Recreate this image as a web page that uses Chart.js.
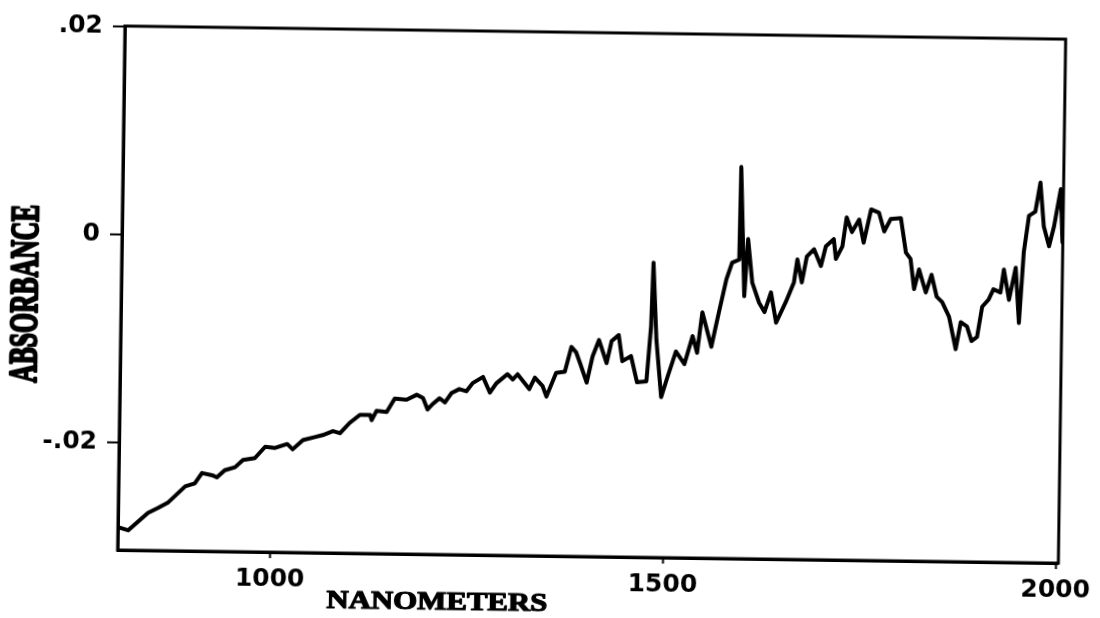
<!DOCTYPE html>
<html>
<head>
<meta charset="utf-8">
<script src="https://cdn.jsdelivr.net/npm/chart.js@4.4.1/dist/chart.umd.min.js"></script>
<style>
  html, body { margin: 0; padding: 0; background: #fff; overflow: hidden; }
  /* the scanned plot is tilted a little clockwise */
  #wrap { width: 1100px; height: 618px; transform: rotate(0.8deg); transform-origin: 550px 309px; }
</style>
</head>
<body>
<div id="wrap"><canvas id="spectrum"></canvas></div>
<script>
// wavelength (nm) and absorbance
const nm = [
  806, 819, 844, 857, 869, 891, 903, 912, 925, 931, 941, 954, 964, 979, 992,
  1004, 1020, 1027, 1040, 1055, 1065, 1078, 1087, 1099, 1112, 1125, 1127, 1133, 1146, 1156,
  1171, 1184, 1192, 1198, 1204, 1213, 1220, 1228, 1238, 1247, 1255, 1268, 1277, 1285, 1299,
  1306, 1312, 1327, 1334, 1344, 1349, 1361, 1372, 1380, 1386, 1391, 1400, 1407, 1415, 1425,
  1431, 1440, 1445, 1456, 1464, 1476, 1481, 1483, 1488, 1495, 1503, 1513, 1524, 1534, 1540,
  1546, 1558, 1567, 1576, 1583, 1592, 1593, 1599, 1603, 1609, 1618, 1625, 1633, 1640, 1652,
  1662, 1666, 1672, 1678, 1687, 1696, 1702, 1712, 1715, 1723, 1728, 1735, 1744, 1750, 1759,
  1769, 1776, 1784, 1797, 1804, 1810, 1815, 1821, 1830, 1837, 1844, 1851, 1860, 1869, 1875,
  1883, 1889, 1896, 1902, 1910, 1916, 1925, 1929, 1936, 1944, 1949, 1954, 1960, 1968, 1974,
  1979, 1986, 1992, 2000, 2003
];
const absorbance = [
  -0.0281, -0.0284, -0.0267, -0.0262, -0.0257, -0.0241, -0.0238, -0.0228, -0.0230, -0.0232, -0.0225, -0.0222, -0.0215, -0.0213, -0.0202,
  -0.0203, -0.0199, -0.0204, -0.0195, -0.0192, -0.0190, -0.0186, -0.0188, -0.0178, -0.0170, -0.0170, -0.0175, -0.0166, -0.0167, -0.0154,
  -0.0155, -0.0150, -0.0153, -0.0164, -0.0159, -0.0153, -0.0157, -0.0148, -0.0144, -0.0146, -0.0138, -0.0132, -0.0147, -0.0138, -0.0129,
  -0.0134, -0.0129, -0.0143, -0.0132, -0.0140, -0.0150, -0.0127, -0.0126, -0.0102, -0.0107, -0.0117, -0.0136, -0.0111, -0.0095, -0.0117,
  -0.0096, -0.0090, -0.0115, -0.0110, -0.0135, -0.0134, -0.0081, -0.0020, -0.0094, -0.0149, -0.0129, -0.0105, -0.0117, -0.0090, -0.0106,
  -0.0067, -0.0100, -0.0067, -0.0035, -0.0019, -0.0016, 0.0073, -0.0051, 0.0004, -0.0038, -0.0057, -0.0066, -0.0047, -0.0076, -0.0056,
  -0.0037, -0.0015, -0.0037, -0.0012, -0.0005, -0.0021, -0.0002, 0.0005, -0.0014, -0.0002, 0.0026, 0.0012, 0.0024, 0.0002, 0.0034,
  0.0031, 0.0013, 0.0025, 0.0026, -0.0007, -0.0013, -0.0042, -0.0023, -0.0045, -0.0028, -0.0049, -0.0054, -0.0068, -0.0099, -0.0073,
  -0.0077, -0.0091, -0.0087, -0.0058, -0.0051, -0.0041, -0.0044, -0.0022, -0.0051, -0.0020, -0.0073, -0.0005, 0.0030, 0.0034, 0.0062,
  0.0020, 0.0001, 0.0020, 0.0056, 0.0005
];

const xTicks = [1000, 1500, 2000];
const yTicks = [-0.02, 0, 0.02];
const yTickLabels = ["-.02", "0", ".02"];
const xTitle = "NANOMETERS";
const yTitle = "ABSORBANCE";

const points = nm.map((w, i) => ({ x: w, y: absorbance[i] }));

// frame + hand-placed axis titles (heavy, like the typewriter original)
const frameAndTitles = {
  id: "frameAndTitles",
  afterDraw(chart) {
    const ctx = chart.ctx;
    const a = chart.chartArea;
    ctx.save();
    ctx.strokeStyle = "#000";
    ctx.lineWidth = 3;
    ctx.strokeRect(a.left, a.top, a.right - a.left, a.bottom - a.top);
    ctx.restore();

    ctx.save();
    ctx.fillStyle = "#000";
    ctx.strokeStyle = "#000";
    ctx.lineJoin = "round";
    ctx.textAlign = "center";
    ctx.textBaseline = "middle";
    ctx.font = 'bold 26px "Liberation Serif"';
    let w = ctx.measureText(xTitle).width;
    ctx.translate(a.left + 320, a.bottom + 48);
    ctx.scale(221 / w, 1);
    ctx.lineWidth = 1.2;
    ctx.fillText(xTitle, 0, 0);
    ctx.strokeText(xTitle, 0, 0);
    ctx.restore();

    ctx.save();
    ctx.fillStyle = "#000";
    ctx.strokeStyle = "#000";
    ctx.lineJoin = "round";
    ctx.textAlign = "center";
    ctx.textBaseline = "middle";
    ctx.font = 'bold 40px "Liberation Serif"';
    w = ctx.measureText(yTitle).width;
    ctx.translate(27, a.top + 269);
    ctx.rotate(-Math.PI / 2);
    ctx.scale(178 / w, 1);
    ctx.lineWidth = 2.5;
    ctx.fillText(yTitle, 0, 0);
    ctx.strokeText(yTitle, 0, 0);
    ctx.restore();
  }
};

const tickFont = { family: "DejaVu Sans", size: 25, weight: "bold" };

const config = {
  type: "line",
  data: {
    datasets: [
      {
        data: points,
        borderColor: "#000",
        borderWidth: 4,
        borderJoinStyle: "round",
        borderCapStyle: "round",
        pointRadius: 0,
        tension: 0,
        fill: false,
      },
    ],
  },
  options: {
    responsive: true,
    maintainAspectRatio: false,
    animation: false,
    layout: { padding: { top: 32, right: 37, left: 0, bottom: 0 } },
    plugins: {
      legend: { display: false },
      tooltip: { enabled: false },
    },
    scales: {
      x: {
        type: "linear",
        min: 806,
        max: 2003.5,
        afterBuildTicks: (scale) => {
          scale.ticks = xTicks.map((v) => ({ value: v }));
        },
        afterFit: (scale) => {
          scale.height = 62;
        },
        ticks: {
          color: "#000",
          font: tickFont,
          padding: 6,
          maxRotation: 0,
          autoSkip: false,
          callback: (v) => String(v),
        },
        grid: {
          drawOnChartArea: false,
          tickLength: 6,
          tickWidth: 2,
          color: "#000",
        },
        border: { color: "#000", width: 3 },
      },
      y: {
        type: "linear",
        min: -0.0303,
        max: 0.02,
        afterBuildTicks: (scale) => {
          scale.ticks = yTicks.map((v) => ({ value: v }));
        },
        afterFit: (scale) => {
          scale.width = 121;
        },
        ticks: {
          color: "#000",
          font: tickFont,
          padding: 10,
          callback: (v) => {
            const i = yTicks.findIndex((t) => Math.abs(t - v) < 1e-9);
            return i >= 0 ? yTickLabels[i] : "";
          },
        },
        grid: {
          drawOnChartArea: false,
          tickLength: 12,
          tickWidth: 2,
          color: "#000",
        },
        border: { color: "#000", width: 3 },
      },
    },
  },
  plugins: [frameAndTitles],
};

const spectrumChart = new Chart(document.getElementById("spectrum"), config);
</script>
</body>
</html>
